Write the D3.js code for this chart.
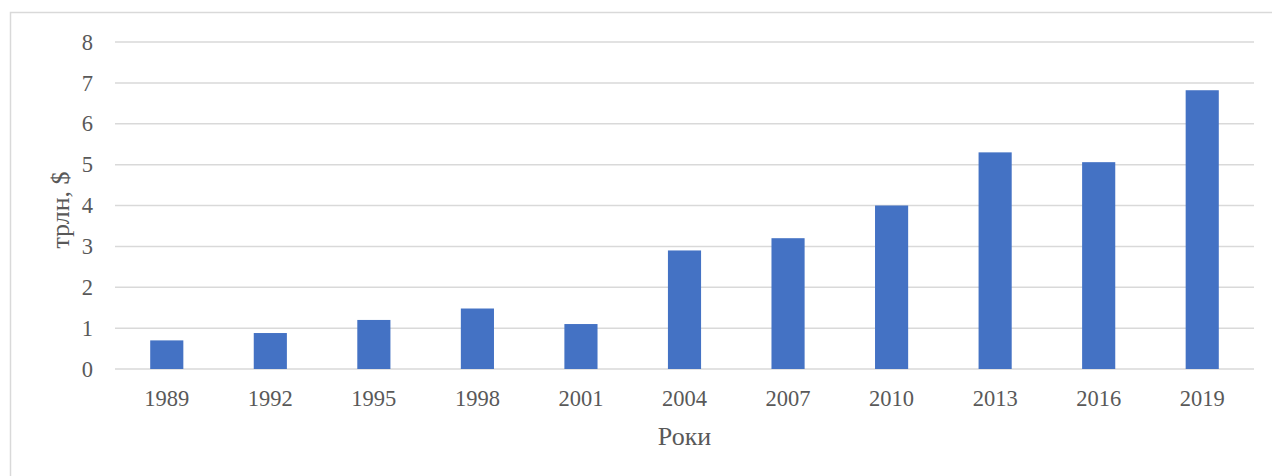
<!DOCTYPE html>
<html>
<head>
<meta charset="utf-8">
<script src="https://cdn.jsdelivr.net/npm/d3@7"></script>
<style>
  html, body { margin: 0; padding: 0; background: #fff; }
  svg { display: block; }
</style>
</head>
<body>
<svg id="chart" width="1272" height="476"></svg>
<script>
const years = ["1989","1992","1995","1998","2001","2004","2007","2010","2013","2016","2019"];
const values = [0.7, 0.88, 1.2, 1.48, 1.1, 2.9, 3.2, 4.0, 5.3, 5.06, 6.82];
const yTicks = [0,1,2,3,4,5,6,7,8];
const yTitle = "трлн, $";
const xTitle = "Роки";

(function () {
const svg = d3.select("#chart");
const pLeft = 115, pRight = 1254, pTop = 42, pBottom = 369;
const font = "Liberation Serif, Times New Roman, serif";
const textColor = "#595959";

svg.append("rect").attr("x", 10.5).attr("y", 12.5).attr("width", 1275).attr("height", 480)
  .attr("fill", "#fff").attr("stroke", "#d9d9d9").attr("stroke-width", 1.5);

const x = d3.scaleBand().domain(years).range([pLeft, pRight]).paddingInner(0.68).paddingOuter(0.34);
const y = d3.scaleLinear().domain([0, 8]).range([pBottom, pTop]);

// gridlines
svg.append("g").selectAll("line").data(yTicks).join("line")
  .attr("x1", pLeft).attr("x2", pRight)
  .attr("y1", d => y(d)).attr("y2", d => y(d))
  .attr("stroke", "#d9d9d9").attr("stroke-width", 1.5);

// bars
svg.append("g").selectAll("rect").data(years).join("rect")
  .attr("x", d => x(d))
  .attr("width", x.bandwidth())
  .attr("y", (d, i) => y(values[i]))
  .attr("height", (d, i) => y(0) - y(values[i]))
  .attr("fill", "#4472c4");

// y axis
const yAxis = d3.axisLeft(y).tickValues(yTicks).tickSize(0).tickPadding(0);
const gy = svg.append("g").attr("transform", `translate(${pLeft - 22},0)`).call(yAxis);
gy.attr("font-family", font).attr("font-size", 22.5);
gy.select(".domain").remove();
gy.selectAll("text").style("font-family", font).style("font-size", "22.5px").attr("fill", textColor);

// x axis
const xAxis = d3.axisBottom(x).tickSize(0).tickPadding(0);
const gx = svg.append("g").attr("transform", `translate(0,${pBottom + 21})`).call(xAxis);
gx.attr("font-family", font).attr("font-size", 22.5);
gx.select(".domain").remove();
gx.selectAll("text").style("font-family", font).style("font-size", "22.5px").attr("fill", textColor);

// titles
svg.append("text").attr("x", (pLeft + pRight) / 2).attr("y", 445)
  .attr("text-anchor", "middle").style("font-family", font).style("font-size", "26px")
  .attr("fill", textColor).text(xTitle);

svg.append("text").attr("transform", `translate(69,210) rotate(-90)`)
  .attr("text-anchor", "middle").style("font-family", font).style("font-size", "26px")
  .attr("fill", textColor).text(yTitle);
})();
</script>
</body>
</html>
